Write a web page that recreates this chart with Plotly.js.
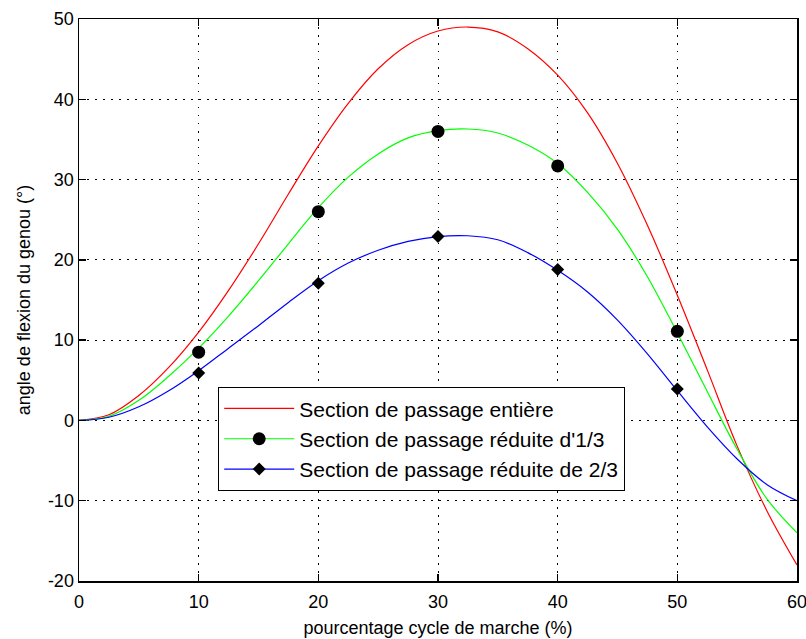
<!DOCTYPE html>
<html>
<head>
<meta charset="utf-8">
<script src="https://cdn.plot.ly/plotly-3.0.1.min.js"></script>
<style>html,body{margin:0;padding:0;background:#fff;}#chart{width:806px;height:639px;}</style>
</head>
<body>
<div id="chart"></div>
<script>
// Curve samples (percentage of gait cycle)
const xCurve = [0, 2.5, 5, 7.5, 10, 12.5, 15, 17.5, 20, 22.5, 25, 27.5, 30, 32.5, 35, 37.5, 40, 42.5, 45, 47.5, 50, 52.5, 55, 57.5, 60];
const redFull = [0, 0.7, 3.1, 6.6, 11.0, 16.2, 22.0, 28.2, 34.2, 39.5, 43.8, 46.8, 48.5, 49.0, 48.4, 46.3, 43.0, 38.3, 32.0, 24.3, 15.6, 6.3, -3.2, -11.3, -18.0];
const greenThird = [0, 0.5, 2.5, 5.5, 9.0, 13.0, 17.4, 22.0, 26.5, 30.3, 33.2, 35.2, 36.1, 36.3, 35.8, 34.3, 32.0, 28.4, 23.8, 17.9, 10.9, 3.6, -3.6, -9.8, -14.0];
const blueTwoThirds = [0, 0.4, 1.7, 3.7, 6.2, 9.0, 11.8, 14.7, 17.4, 19.6, 21.2, 22.3, 22.9, 23.0, 22.5, 20.9, 18.7, 16.0, 12.5, 8.3, 3.7, -0.8, -4.8, -8.0, -10.0];

// Measured points
const xMeas = [10, 20, 30, 40, 50];
const greenMeas = [8.5, 26.0, 36.0, 31.7, 11.1];
const blueMeas = [5.9, 17.1, 22.9, 18.8, 3.9];

const names = ["Section de passage entière", "Section de passage réduite d'1/3", "Section de passage réduite de 2/3"];
const xTicks = [0, 10, 20, 30, 40, 50, 60];
const yTicks = [-20, -10, 0, 10, 20, 30, 40, 50];

const FONT = "Liberation Sans, Arial, Helvetica, sans-serif";

const traces = [
  {x: xCurve, y: redFull, type: 'scatter', mode: 'lines', name: names[0],
   line: {color: '#ff0000', width: 1.2, shape: 'spline'}},
  {x: [null], y: [null], type: 'scatter', mode: 'lines+markers', name: names[1],
   line: {color: '#00ff00', width: 1.2}, marker: {symbol: 'circle', size: 13, color: '#000'}},
  {x: [null], y: [null], type: 'scatter', mode: 'lines+markers', name: names[2],
   line: {color: '#0000ff', width: 1.2}, marker: {symbol: 'diamond', size: 10, color: '#000'}},
  {x: xCurve, y: greenThird, type: 'scatter', mode: 'lines', showlegend: false,
   line: {color: '#00ff00', width: 1.2, shape: 'spline'}},
  {x: xCurve, y: blueTwoThirds, type: 'scatter', mode: 'lines', showlegend: false,
   line: {color: '#0000ff', width: 1.2, shape: 'spline'}},
  {x: xMeas, y: greenMeas, type: 'scatter', mode: 'markers', showlegend: false,
   marker: {symbol: 'circle', size: 13, color: '#000'}},
  {x: xMeas, y: blueMeas, type: 'scatter', mode: 'markers', showlegend: false,
   marker: {symbol: 'diamond', size: 10, color: '#000'}}
];

const axisCommon = {
  showline: true, linecolor: '#000', linewidth: 1.5, mirror: 'ticks',
  ticks: 'inside', ticklen: 7, tickwidth: 1.5, tickcolor: '#000',
  showgrid: true, gridcolor: '#000', gridwidth: 1, griddash: '1.5px,6.5px',
  zeroline: false, tickfont: {family: FONT, size: 18, color: '#000'}
};

const layout = {
  width: 806, height: 639,
  margin: {l: 79, r: 9, t: 19, b: 58},
  paper_bgcolor: '#fff', plot_bgcolor: '#fff',
  font: {family: FONT, color: '#000'},
  xaxis: Object.assign({}, axisCommon, {
    range: [0, 60], tickvals: xTicks, ticktext: xTicks.map(String),
    ticklabeloverflow: 'allow', ticklabelstandoff: 4,
    title: {text: 'pourcentage cycle de marche (%)', font: {family: FONT, size: 18, color: '#000'}, standoff: 10}
  }),
  yaxis: Object.assign({}, axisCommon, {
    range: [-20, 50], tickvals: yTicks, ticktext: yTicks.map(String),
    title: {text: 'angle de flexion du genou (°)', font: {family: FONT, size: 18, color: '#000'}, standoff: 12}
  }),
  legend: {
    x: 0.1936, y: 0.345, xanchor: 'left', yanchor: 'top',
    bgcolor: '#fff', bordercolor: '#000', borderwidth: 1.2,
    font: {family: FONT, size: 21, color: '#000'},
    itemwidth: 70, tracegroupgap: 0
  },
  showlegend: true
};

Plotly.newPlot('chart', traces, layout, {displayModeBar: false, staticPlot: true});
</script>
</body>
</html>
